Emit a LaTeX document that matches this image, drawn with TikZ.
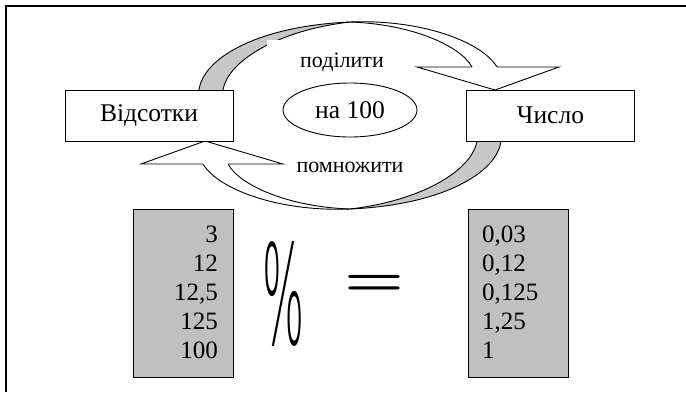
\documentclass[tikz,border=0pt]{standalone}
\usepackage{fontspec}
\usepackage{graphicx}
\setmainfont{Liberation Serif}
\IfFontExistsTF{DejaVu Sans ExtraLight}
  {\newfontfamily\pctfont{DejaVu Sans ExtraLight}}
  {\newfontfamily\pctfont{DejaVu Sans}}
\usetikzlibrary{shapes.geometric,calc}
\definecolor{bandgrey}{HTML}{C8C8C8}
\definecolor{tablegrey}{HTML}{C0C0C0}

\tikzset{
  bigtext/.style={font=\fontsize{25.5}{30}\selectfont},
  numtext/.style={font=\fontsize{25}{29}\selectfont, inner sep=0pt},
  labeltext/.style={font=\fontsize{22}{26}\selectfont},
  termbox/.style={draw, line width=0.9pt, fill=white, rectangle,
    minimum width=168pt, minimum height=51pt, inner sep=0pt, bigtext},
  tablebox/.style={draw, line width=0.9pt, fill=tablegrey, rectangle,
    minimum width=100pt, minimum height=168pt, inner sep=0pt},
  bandline/.style={line width=0.9pt},
  headline/.style={line width=0.9pt, fill=white, line join=miter},
  labelbox/.style={fill=white, inner sep=0pt, labeltext}
}

% curved arrow band; the lower arrow is a half-turn copy of it
\newcommand{\drawband}{%
  \fill[bandgrey] (199,90) .. controls (203,58) and (258,26) .. (350,22)
        .. controls (280,30) and (228,60) .. (223,90) -- cycle;
  \draw[bandline] (199,90) .. controls (203,58) and (258,26) .. (350,22)
        .. controls (422,19) and (482,42) .. (497,67);
  \draw[bandline] (223,90) .. controls (228,60) and (280,30) .. (350,22);
  \draw[bandline] (350,22) .. controls (410,24) and (460,45) .. (472,67);
}
\newcommand{\drawhead}{%
  \filldraw[headline] (472,67) -- (417,67) -- (495,90) -- (559,67) -- (497,67);
}

\begin{document}
\begin{tikzpicture}[x=1pt, y=-1pt]
\useasboundingbox (0,0) rectangle (686,392);

% page frame (left and top edges)
\draw[line width=1.3pt] (6,392) -- (6,6) -- (686,6);

\drawband
\begin{scope}[rotate around={180:(350,115.5)}]
  \drawband
\end{scope}

% labels on the arrows (white backing hides part of the band)
\node[labelbox, minimum width=150pt, minimum height=44pt] (divlbl) at (342,62) {поділити};
\node[labelbox, minimum width=150pt, minimum height=36pt] (mullbl) at (350,167) {помножити};

% arrow heads
\drawhead
\begin{scope}[rotate around={180:(350,115.5)}]
  \drawhead
\end{scope}

% centre ellipse
\node[ellipse, draw, line width=0.9pt, fill=white, minimum width=134pt,
      minimum height=54pt, inner sep=0pt, bigtext] (hundred) at (350,110) {на 100};

% the two terms
\node[termbox] (pct) at (149,115.5) {Відсотки};
\node[termbox] (num) at (550.5,115.5) {Число};

% tables
\node[tablebox] (ltab) at (183,293) {};
\node[tablebox] (rtab) at (518,293) {};

\node[numtext, anchor=base east] (l1) at (218,242) {3};
\node[numtext, anchor=base east] (l2) at (218,271) {12};
\node[numtext, anchor=base east] (l3) at (218,300) {12,5};
\node[numtext, anchor=base east] (l4) at (218,329) {125};
\node[numtext, anchor=base east] (l5) at (218,358) {100};

\node[numtext, anchor=base west] (r1) at (482,242) {0,03};
\node[numtext, anchor=base west] (r2) at (482,271) {0,12};
\node[numtext, anchor=base west] (r3) at (482,300) {0,125};
\node[numtext, anchor=base west] (r4) at (482,329) {1,25};
\node[numtext, anchor=base west] (r5) at (482,358) {1};

% percent and equals signs
\node[inner sep=0pt] (pctsign) at (283.5,293.5)
  {\resizebox{42pt}{103pt}{\pctfont\%}};
\node[inner sep=0pt] (eqsign) at (375,285)
  {\resizebox{60pt}{20pt}{\boldmath$=$}};
\end{tikzpicture}
\end{document}
